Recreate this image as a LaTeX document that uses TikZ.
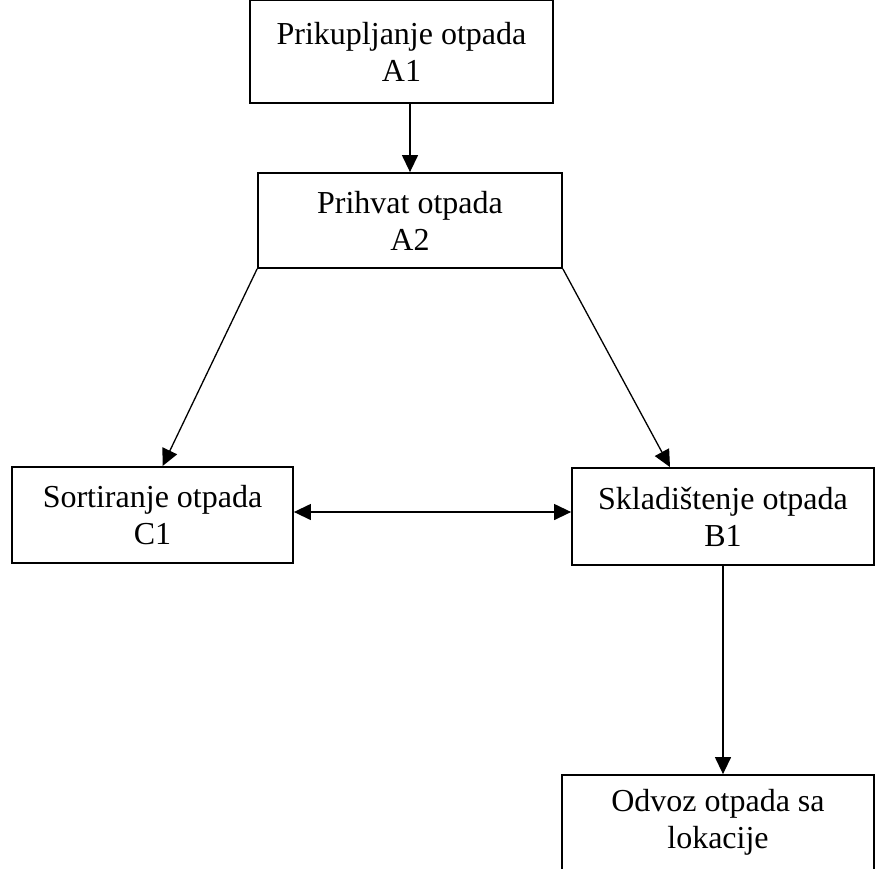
\documentclass[tikz,border=0pt]{standalone}
\usepackage{fontspec}
\setmainfont{Liberation Serif}
\usetikzlibrary{calc}
\usetikzlibrary{arrows.meta}

\begin{document}
\begin{tikzpicture}[x=1pt,y=-1pt,
  box/.style={draw,line width=1.8pt,rectangle,align=center,inner sep=0pt,
    font=\fontsize{32}{37}\selectfont},
  tok/.style={line width=1.3pt,-{Triangle[length=17pt,width=16pt]}}]
\useasboundingbox (0,0) rectangle (875,868);

\node[box,minimum width=303,minimum height=103] (A1) at (401.5,51.5) {Prikupljanje otpada\\A1};
\node[box,minimum width=304,minimum height=95] (A2) at (410,220.5) {Prihvat otpada\\A2};
\node[box,minimum width=281,minimum height=96] (C1) at (152.5,515) {Sortiranje otpada\\C1};
\node[box,minimum width=302,minimum height=97] (B1) at (723,516.5) {Skladištenje otpada\\B1};
\node[box,minimum width=312,minimum height=95] (D) at (718,822.5) {Odvoz otpada sa\\lokacije};

\draw[tok] (A2.north |- A1.south) -- (A2.north);
\draw[tok] (A2.south west) -- ($ (C1.north)+(10,0) $);
\draw[tok] (A2.south east) -- ($ (B1.north)+(-53,0) $);
\draw[tok,{Triangle[length=17pt,width=16pt]}-{Triangle[length=17pt,width=16pt]}] ($ (C1.east)+(0,-3) $) -- ($ (C1.east -| B1.west)+(0,-3) $);
\draw[tok] (B1.south) -- (B1.south |- D.north);
\end{tikzpicture}
\end{document}
